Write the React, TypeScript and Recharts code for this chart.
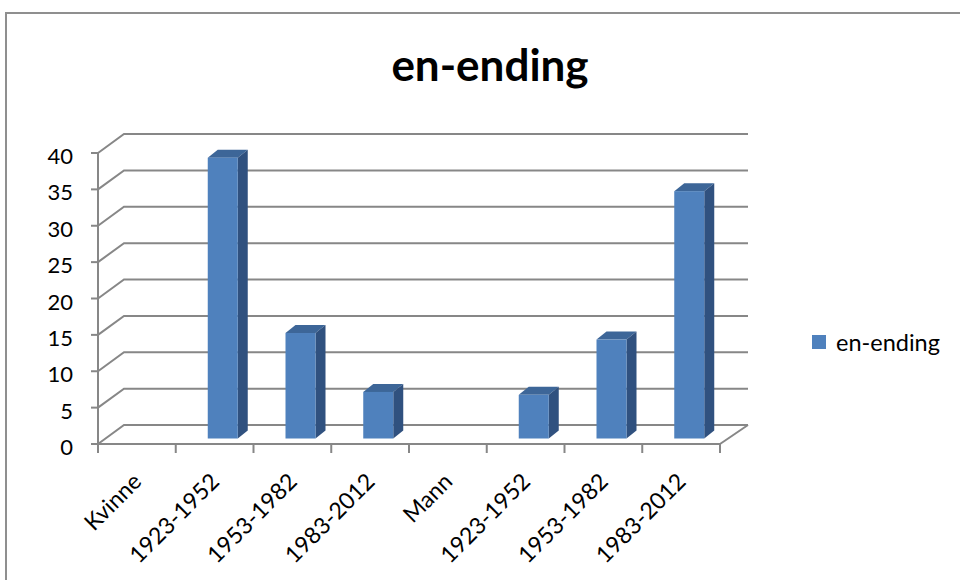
import { BarChart, Bar, XAxis, YAxis, CartesianGrid } from 'recharts'

const categories = ['Kvinne', '1923-1952', '1953-1982', '1983-2012', 'Mann', '1923-1952', '1953-1982', '1983-2012']
const enEnding = [0, 38.6, 14.5, 6.4, 0, 6.0, 13.6, 34.0]
const yTicks = [0, 5, 10, 15, 20, 25, 30, 35, 40]
const seriesName = 'en-ending'
const chartTitle = 'en-ending'

const data = categories.map((category, i) => ({ category, value: enEnding[i] }))

// plot area = front plane of the 3d box
const PLOT_LEFT = 98
const PLOT_RIGHT = 720
const PLOT_TOP = 153
const PLOT_BOTTOM = 444
const BAND = (PLOT_RIGHT - PLOT_LEFT) / categories.length

// back wall offset
const DEPTH_X = 26
const DEPTH_Y = -19

// bar placement inside the box and bar thickness
const BAR_OX = 8
const BAR_OY = -5.5
const BAR_DX = 10
const BAR_DY = -8

const GRID = '#878787'
const FRONT = '#4F81BD'
const TOP = '#3D6698'
const SIDE = '#30517F'
const FONT = 'Lato, "Open Sans", sans-serif'

function gridLine(props: any) {
  const { x1, x2, y1, key } = props
  const bx2 = x2 + DEPTH_X + 2
  const isFloor = Math.abs(y1 - PLOT_BOTTOM) < 1
  return (
    <g key={key}>
      <polyline
        points={`${x1},${y1} ${x1 + DEPTH_X},${y1 + DEPTH_Y} ${bx2},${y1 + DEPTH_Y}`}
        fill="none"
        stroke={GRID}
        strokeWidth={2}
      />
      {isFloor && (
        <line x1={x2} y1={y1} x2={bx2} y2={y1 + DEPTH_Y} stroke={GRID} strokeWidth={2} />
      )}
    </g>
  )
}

function Bar3D(props: any) {
  const { x, y, width, height } = props
  if (!height || height <= 0) return null
  const fx = x + BAR_OX
  const fy = y + BAR_OY
  const r = fx + width
  return (
    <g>
      <polygon
        points={`${fx},${fy} ${fx + BAR_DX},${fy + BAR_DY} ${r + BAR_DX},${fy + BAR_DY} ${r},${fy}`}
        fill={TOP}
      />
      <polygon
        points={`${r},${fy} ${r + BAR_DX},${fy + BAR_DY} ${r + BAR_DX},${fy + height + BAR_DY} ${r},${fy + height}`}
        fill={SIDE}
      />
      <rect x={fx} y={fy} width={width} height={height} fill={FRONT} />
    </g>
  )
}

function YTick(props: any) {
  const { y, payload } = props
  return (
    <text x={73} y={y + 11} textAnchor="end" fill="#000" fontSize={22} fontFamily={FONT}>
      {payload.value}
    </text>
  )
}

function XTick(props: any) {
  const { x, payload, index } = props
  const left = x - BAND / 2
  const last = index === categories.length - 1
  return (
    <g>
      <line x1={left} x2={left} y1={PLOT_BOTTOM} y2={PLOT_BOTTOM + 9} stroke={GRID} strokeWidth={2} />
      {last && (
        <line x1={left + BAND} x2={left + BAND} y1={PLOT_BOTTOM} y2={PLOT_BOTTOM + 9} stroke={GRID} strokeWidth={2} />
      )}
      <text
        transform={`translate(${x + 6},${PLOT_BOTTOM + 39}) rotate(-45)`}
        textAnchor="end"
        fill="#000"
        fontSize={23}
        fontFamily={FONT}
      >
        {payload.value}
      </text>
    </g>
  )
}

export default function App() {
  return (
    <div style={{ position: 'absolute', left: 0, top: 0, width: 960, height: 580, background: '#fff', overflow: 'hidden' }}>
      <div
        style={{
          position: 'absolute',
          left: 5,
          top: 12,
          width: 1000,
          height: 700,
          border: `2px solid #8f8f8f`,
          boxSizing: 'border-box',
        }}
      />
      <div
        style={{
          position: 'absolute',
          left: 0,
          top: 34,
          width: 980,
          textAlign: 'center',
          fontFamily: FONT,
          fontWeight: 700,
          fontSize: 44,
          lineHeight: '60px',
          color: '#000',
        }}
      >
        {chartTitle}
      </div>
      <div style={{ position: 'absolute', left: 0, top: 0 }}>
        <BarChart
          width={960}
          height={580}
          data={data}
          margin={{ top: PLOT_TOP, right: 960 - PLOT_RIGHT, bottom: 0, left: 0 }}
          barSize={30}
        >
          <CartesianGrid vertical={false} horizontal={gridLine} />
          <XAxis
            dataKey="category"
            interval={0}
            height={580 - PLOT_BOTTOM}
            tickLine={false}
            axisLine={{ stroke: GRID, strokeWidth: 2 }}
            tick={<XTick />}
          />
          <YAxis
            domain={[0, 40]}
            ticks={yTicks}
            width={PLOT_LEFT}
            tickSize={7}
            tickLine={{ stroke: GRID, strokeWidth: 2 }}
            axisLine={{ stroke: GRID, strokeWidth: 2 }}
            tick={<YTick />}
          />
          <Bar dataKey="value" name={seriesName} fill={FRONT} shape={<Bar3D />} isAnimationActive={false} />
        </BarChart>
      </div>
      <div style={{ position: 'absolute', left: 812, top: 335, display: 'flex', alignItems: 'center', height: 14 }}>
        <div style={{ width: 14, height: 14, background: FRONT }} />
        <span style={{ marginLeft: 10, fontFamily: FONT, fontSize: 23.5, color: '#000', whiteSpace: 'nowrap' }}>
          {seriesName}
        </span>
      </div>
    </div>
  )
}
